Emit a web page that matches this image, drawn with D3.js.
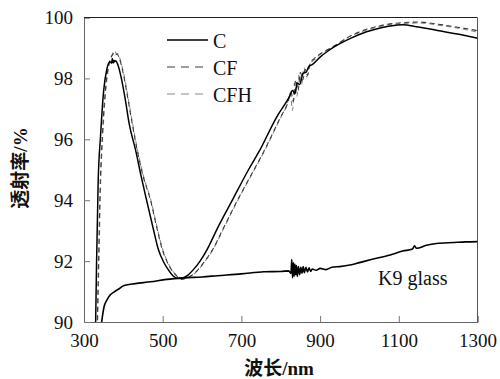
<!DOCTYPE html>
<html>
<head>
<meta charset="utf-8">
<script src="https://cdn.jsdelivr.net/npm/d3@7"></script>
<style>
  body { margin: 0; background: #fff; }
</style>
</head>
<body>
<div id="chart"></div>
<script>
// wavelength (nm) / transmittance (%)
const cWave = [329, 332, 336, 342, 350, 358, 366, 370, 372, 374, 376, 378, 380, 386, 395, 405, 415, 431, 445, 459, 475, 489, 502, 514, 526, 539, 552, 565, 578, 595, 612, 640, 677, 718, 745, 790, 820, 830, 836, 842, 848, 857, 864, 872, 880, 900, 920, 938, 980, 1018, 1050, 1078, 1110, 1145, 1190, 1230, 1265, 1300];
const cVal  = [89.5, 92.0, 94.6, 96.1, 97.6, 98.3, 98.55, 98.5, 98.65, 98.5, 98.6, 98.55, 98.58, 98.45, 98.0, 97.3, 96.5, 95.65, 94.8, 94.0, 93.12, 92.38, 91.98, 91.72, 91.52, 91.44, 91.45, 91.55, 91.72, 92.0, 92.36, 93.1, 94.0, 95.0, 95.6, 96.74, 97.35, 97.6, 97.5, 97.85, 97.8, 98.17, 98.2, 98.4, 98.45, 98.7, 98.9, 99.05, 99.33, 99.53, 99.65, 99.72, 99.76, 99.70, 99.60, 99.50, 99.42, 99.32];

const cfWave = [333, 337, 341, 347, 355, 363, 371, 375, 378, 381, 384, 390, 400, 410, 420, 435, 450, 469, 485, 499, 511, 522, 535, 548, 562, 576, 590, 607, 626, 655, 690, 732, 757, 800, 818, 826, 832, 838, 844, 850, 856, 862, 868, 875, 885, 900, 920, 940, 975, 1020, 1060, 1100, 1150, 1200, 1250, 1300];
const cfVal  = [89.5, 92.0, 94.4, 96.2, 97.7, 98.45, 98.75, 98.82, 98.85, 98.78, 98.8, 98.65, 98.15, 97.45, 96.7, 95.65, 94.8, 94.0, 93.1, 92.38, 91.98, 91.72, 91.52, 91.4, 91.45, 91.55, 91.72, 92.0, 92.36, 93.1, 94.0, 95.0, 95.6, 96.74, 97.2, 97.55, 97.25, 97.95, 97.6, 98.2, 97.95, 98.3, 98.1, 98.5, 98.65, 98.8, 98.95, 99.1, 99.38, 99.62, 99.75, 99.82, 99.85, 99.78, 99.68, 99.57];

const cfhWave = [334, 338, 342, 348, 356, 364, 372, 376, 379, 382, 385, 391, 401, 411, 421, 436, 451, 470, 486, 500, 512, 523, 536, 549, 563, 577, 591, 608, 627, 656, 691, 733, 758, 801, 815, 824, 830, 835, 841, 847, 853, 859, 866, 873, 884, 901, 921, 941, 976, 1021, 1061, 1101, 1151, 1201, 1251, 1300];
const cfhVal  = [89.5, 92.0, 94.4, 96.2, 97.7, 98.45, 98.78, 98.88, 98.9, 98.8, 98.82, 98.66, 98.15, 97.45, 96.7, 95.65, 94.8, 94.0, 93.1, 92.38, 91.98, 91.72, 91.52, 91.42, 91.45, 91.55, 91.72, 92.0, 92.36, 93.1, 94.0, 95.0, 95.6, 96.74, 97.1, 97.5, 96.95, 97.85, 97.4, 98.15, 97.8, 98.35, 98.05, 98.45, 98.6, 98.8, 98.95, 99.1, 99.38, 99.6, 99.73, 99.79, 99.82, 99.75, 99.65, 99.52];

const k9Wave = [344, 347, 351, 358, 366, 376, 390, 402, 430, 469, 510, 554, 600, 639, 700, 757, 800, 820, 826, 828, 830, 832, 834, 836, 838, 840, 842, 845, 848, 851, 854, 857, 860, 864, 868, 872, 876, 880, 890, 900, 915, 930, 950, 976, 1000, 1030, 1078, 1110, 1135, 1140, 1145, 1170, 1196, 1240, 1270, 1300];
const k9Val  = [89.9, 90.2, 90.5, 90.72, 90.88, 90.98, 91.1, 91.2, 91.26, 91.32, 91.4, 91.45, 91.48, 91.52, 91.58, 91.65, 91.66, 91.68, 91.6, 92.05, 91.45, 91.95, 91.5, 91.9, 91.55, 91.85, 91.5, 91.82, 91.55, 91.8, 91.6, 91.82, 91.62, 91.8, 91.64, 91.78, 91.66, 91.74, 91.7, 91.76, 91.72, 91.8, 91.82, 91.87, 91.95, 92.05, 92.2, 92.33, 92.4, 92.5, 92.42, 92.52, 92.58, 92.61, 92.63, 92.64];

const xTicks = [300, 500, 700, 900, 1100, 1300];
const yTicks = [90, 92, 94, 96, 98, 100];

const legendNames = ["C", "CF", "CFH"];

const width = 500, height = 379;
const plot = {left: 84, top: 17.5, right: 477.5, bottom: 322};
const serif = "Liberation Serif, DejaVu Serif";
const cjk = "Noto Sans CJK SC";

const svg = d3.select("#chart").append("svg")
    .attr("width", width)
    .attr("height", height);

const x = d3.scaleLinear().domain([300, 1300]).range([plot.left, plot.right]);
const y = d3.scaleLinear().domain([90, 100]).range([plot.bottom, plot.top]);

svg.append("clipPath").attr("id", "clip")
  .append("rect")
    .attr("x", plot.left).attr("y", plot.top)
    .attr("width", plot.right - plot.left)
    .attr("height", plot.bottom - plot.top);

// axes with ticks pointing inward
svg.append("g")
    .attr("transform", `translate(0,${plot.bottom})`)
    .call(d3.axisBottom(x).tickValues(xTicks).tickFormat(d3.format("d")).tickSize(-6).tickPadding(12))
    .call(g => g.attr("font-family", null).attr("font-size", null))
    .call(g => g.select(".domain").attr("stroke", "#666"))
    .call(g => g.selectAll(".tick line").attr("stroke", "#777"))
    .call(g => g.selectAll(".tick text").attr("fill", "#111")
        .style("font-family", serif).style("font-size", "19px"));

svg.append("g")
    .attr("transform", `translate(${plot.left},0)`)
    .call(d3.axisLeft(y).tickValues(yTicks).tickSize(-6).tickPadding(11))
    .call(g => g.attr("font-family", null).attr("font-size", null))
    .call(g => g.select(".domain").attr("stroke", "#666"))
    .call(g => g.selectAll(".tick line").attr("stroke", "#777"))
    .call(g => g.selectAll(".tick text").attr("fill", "#111")
        .style("font-family", serif).style("font-size", "19px"));

// top and right frame
svg.append("line")
    .attr("x1", plot.left).attr("x2", plot.right)
    .attr("y1", plot.top).attr("y2", plot.top)
    .attr("stroke", "#222");
svg.append("line")
    .attr("x1", plot.right).attr("x2", plot.right)
    .attr("y1", plot.top).attr("y2", plot.bottom)
    .attr("stroke", "#555");

const line = d3.line()
    .curve(d3.curveMonotoneX)
    .x(d => x(d[0]))
    .y(d => y(d[1]));

const series = [
    {name: "CFH", wave: cfhWave, val: cfhVal, color: "#8a8a8a", width: 1.1, dash: "5,3.5"},
    {name: "CF", wave: cfWave, val: cfVal, color: "#3a3a3a", width: 1.1, dash: "5,3.5"},
    {name: "K9", wave: k9Wave, val: k9Val, color: "#000", width: 1.6, dash: null},
    {name: "C", wave: cWave, val: cVal, color: "#000", width: 1.5, dash: null}
];

const lines = svg.append("g").attr("clip-path", "url(#clip)");
series.forEach(function (s) {
    lines.append("path")
        .datum(s.wave.map((w, i) => [w, s.val[i]]))
        .attr("d", line)
        .attr("fill", "none")
        .attr("stroke", s.color)
        .attr("stroke-width", s.width)
        .attr("stroke-dasharray", s.dash);
});

// legend
const legendStyle = {
    C: {color: "#000", dash: null, width: 1.5},
    CF: {color: "#3a3a3a", dash: "8,6", width: 1.2},
    CFH: {color: "#8a8a8a", dash: "8,6", width: 1.2}
};
const legend = svg.append("g");
legendNames.forEach(function (name, i) {
    let ly = 40 + i * 27;
    let st = legendStyle[name];
    legend.append("line")
        .attr("x1", 167).attr("x2", i === 0 ? 208 : 203)
        .attr("y1", ly).attr("y2", ly)
        .attr("stroke", st.color)
        .attr("stroke-width", st.width)
        .attr("stroke-dasharray", st.dash);
    legend.append("text")
        .attr("x", 213).attr("y", ly + 8)
        .style("font-family", serif)
        .style("font-size", "20px")
        .attr("fill", "#111")
        .text(name);
});

svg.append("text")
    .attr("x", 378).attr("y", 285)
    .style("font-family", serif)
    .style("font-size", "20px")
    .attr("fill", "#111")
    .text("K9 glass");

// axis titles
svg.append("text")
    .attr("x", 279).attr("y", 375)
    .attr("text-anchor", "middle")
    .style("font-family", serif)
    .style("font-size", "19px")
    .style("font-weight", "bold")
    .attr("fill", "#111")
    .call(t => {
        t.append("tspan").style("font-family", cjk).text("波长");
        t.append("tspan").text("/nm");
    });

svg.append("text")
    .attr("transform", "translate(27,168) rotate(-90)")
    .attr("text-anchor", "middle")
    .style("font-family", serif)
    .style("font-size", "19px")
    .style("font-weight", "bold")
    .attr("fill", "#111")
    .call(t => {
        t.append("tspan").style("font-family", cjk).text("透射率");
        t.append("tspan").text("/%");
    });
</script>
</body>
</html>
